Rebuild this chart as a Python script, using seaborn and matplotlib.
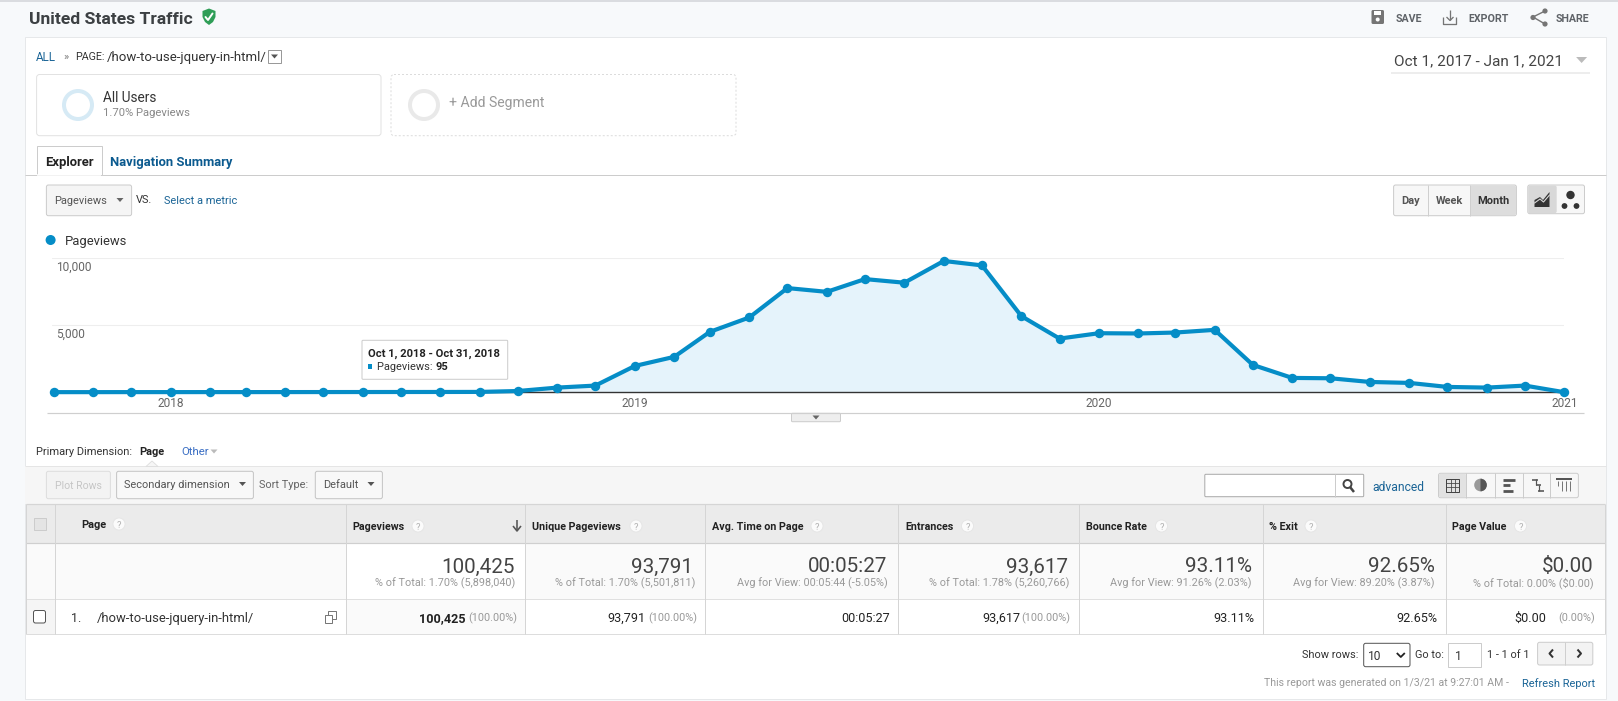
import matplotlib
matplotlib.use("Agg")
import matplotlib.pyplot as plt
import matplotlib.dates as mdates
from matplotlib.patches import Rectangle, FancyBboxPatch, Circle, Polygon, Wedge
from matplotlib.transforms import ScaledTranslation
import pandas as pd
import seaborn as sns

# ---------- data ----------
months = pd.date_range("2017-10-01", "2021-01-01", freq="MS")
pageviews = [12, 12, 14, 14, 15, 15, 16, 18, 20, 22, 24, 28, 95, 350, 500, 1960, 2640,
             4500, 5570, 7760, 7480, 8430, 8160, 9780, 9450, 5670, 4000, 4400, 4380,
             4450, 4650, 2040, 1070, 1045, 770, 700, 400, 350, 500, 5]
y_ticks = [5000, 10000]

col_names = ["Pageviews", "Unique Pageviews", "Avg. Time on Page", "Entrances",
             "Bounce Rate", "% Exit", "Page Value"]
col_big = ["100,425", "93,791", "00:05:27", "93,617", "93.11%", "92.65%", "$0.00"]
col_sub = ["% of Total: 1.70% (5,898,040)", "% of Total: 1.70% (5,501,811)",
           "Avg for View: 00:05:44 (-5.05%)", "% of Total: 1.78% (5,260,766)",
           "Avg for View: 91.26% (2.03%)", "Avg for View: 89.20% (3.87%)",
           "% of Total: 0.00% ($0.00)"]
row_val = ["100,425", "93,791", "00:05:27", "93,617", "93.11%", "92.65%", "$0.00"]
row_pct = ["(100.00%)", "(100.00%)", "", "(100.00%)", "", "", "(0.00%)"]

# ---------- layout in pixels ----------
W, H = 1618, 701
col_edges = [345.7, 525.3, 705.4, 898.3, 1079.4, 1262.6, 1445.7, 1604.7]
hdr_x = [352, 532, 712, 905, 1086, 1269.5, 1452]
hdr_q = [418, 636, 817, 967.5, 1161.5, 1311, 1520.5]
big_r = [515, 693.5, 887.4, 1068.5, 1251.7, 1435, 1593.8]
sub_r = [515, 695, 888, 1069, 1252, 1435, 1594]
val_r = [466, 646, 890, 1021, 1254, 1437, 1546]
pct_r = [517, 697, 0, 1070.6, 0, 0, 1595]

BLUE = "#058dc7"
LINK = "#1a6496"
TXT = "#333333"
GREY = "#999999"
EDGE = "#cfcfcf"

sns.set_theme(style="white")
plt.rcParams["font.family"] = ["Roboto", "DejaVu Sans"]

fig = plt.figure(figsize=(W / 100, H / 100), dpi=100, facecolor="#f7f9fb")
bg = fig.add_axes([0, 0, 1, 1], zorder=0)
bg.set_xlim(0, W)
bg.set_ylim(H, 0)
bg.axis("off")


def T(x, y, s, px=12, color=TXT, weight="normal", ha="left", z=6):
    bg.text(x, y, s, fontsize=px * 0.72, color=color, fontweight=weight,
            ha=ha, va="center_baseline", zorder=z)


def R(x0, y0, x1, y1, fc="white", ec="none", lw=1, z=2, ls="-", round_=0):
    if round_:
        p = FancyBboxPatch((x0, y0), x1 - x0, y1 - y0,
                           boxstyle=f"round,pad=0,rounding_size={round_}",
                           fc=fc, ec=ec, lw=lw * 0.72, ls=ls, zorder=z)
    else:
        p = Rectangle((x0, y0), x1 - x0, y1 - y0, fc=fc, ec=ec, lw=lw * 0.72, ls=ls, zorder=z)
    bg.add_patch(p)


def L(xs, ys, c=EDGE, lw=1, z=3):
    bg.plot(xs, ys, color=c, lw=lw * 0.72, zorder=z, solid_capstyle="butt")


def TRI(cx, cy, w=9, h=5, c="#666666", up=False, z=6):
    d = -1 if up else 1
    bg.add_patch(Polygon([(cx - w / 2, cy - d * h / 2), (cx + w / 2, cy - d * h / 2),
                          (cx, cy + d * h / 2)], fc=c, ec="none", zorder=z))


def RING(cx, cy, r, c, lw=5):
    bg.add_patch(Circle((cx, cy), r, fc="none", ec=c, lw=lw * 0.72, zorder=4))


def Q(cx, cy):
    bg.add_patch(Circle((cx, cy), 6, fc="#fbfbfb", ec="#e4e4e4", lw=0.6, zorder=5))
    T(cx, cy, "?", 9.5, "#b0b0b0", ha="center")


# ---------- page frame ----------
R(0, 0, W, 1.5, fc="#dadce0", z=1)
R(25.5, 37, 1606, 699, fc="white", ec="#e6e8ea", z=1)

# header
T(29, 17.5, "United States Traffic", 17.5, "#3c4043", "bold")
bg.add_patch(Polygon([(202.5, 11), (209, 8.5), (215.5, 11), (215.5, 17), (213, 22),
                      (209, 25), (205, 22), (202.5, 17)], fc="#2f9e57", ec="none", zorder=5))
bg.plot([205.5, 208, 212.5], [17, 20, 13.5], color="white", lw=1.4, zorder=6)

G = "#757575"
R(1371.5, 10, 1384, 24, fc=G, z=5, round_=1.5)
R(1374, 11, 1381, 15, fc="white", z=6)
bg.add_patch(Circle((1377.7, 19.5), 2, fc="white", ec="none", zorder=6))
T(1395.7, 17.5, "SAVE", 10.6, "#5f6368", "bold")
L([1450, 1450], [10, 20], G, 1.3, 5)
L([1446.5, 1450, 1453.5], [17, 20.5, 17], G, 1.3, 5)
L([1443.5, 1443.5, 1456.5, 1456.5], [17, 24, 24, 17], G, 1.3, 5)
T(1468.5, 17.5, "EXPORT", 10.6, "#5f6368", "bold")
L([1545, 1533, 1545], [11, 17, 24], G, 1.4, 5)
for cx, cy in [(1545, 11), (1533, 17.5), (1545, 24)]:
    bg.add_patch(Circle((cx, cy), 2.6, fc=G, ec="none", zorder=5))
T(1556, 17.5, "SHARE", 10.6, "#5f6368", "bold")

# breadcrumb and date
T(36, 56, "ALL", 11.6, LINK)
T(63, 56, "»", 11, "#777777")
T(75, 56, "PAGE:", 10.8, TXT)
T(107, 56, "/how-to-use-jquery-in-html/", 13.2, TXT)
R(268, 50, 281, 63, fc="white", ec="#999999")
TRI(274.5, 56.5, 7, 4, "#555555")
T(1393.6, 60, "Oct 1, 2017 - Jan 1, 2021", 15.4, "#444444")
TRI(1581.6, 60, 11, 6, "#bbbbbb")
L([1390.6, 1590], [72.7, 72.7], "#e8e8e8", 1.5)

# segments
R(36.6, 74.5, 381, 135.7, ec="#e2e2e2", round_=3)
RING(78, 105, 14, "#d6eaf5", 4)
T(103.5, 97, "All Users", 13.6, TXT)
T(103.5, 112, "1.70% Pageviews", 11.3, "#888888")
R(391, 74.5, 736, 135.7, ec="#dcdcdc", ls=(0, (2, 2)), round_=3)
RING(424, 105, 14, "#e9e9e9", 4)
T(449, 102, "+ Add Segment", 14, "#999999")

# tabs
L([25.5, 1606], [174.5, 174.5], "#cccccc", 1)
R(36.6, 146, 101.7, 175, ec="#cccccc", z=4)
L([37.2, 101.2], [174.5, 174.5], "white", 1.5, 5)
T(69, 161, "Explorer", 13, "#222222", "bold", ha="center")
T(110.5, 161, "Navigation Summary", 13, "#0b5a8f", "bold")

# metric and period controls
R(46.4, 185, 131.6, 215.7, fc="#f5f5f5", ec="#cccccc", round_=2)
T(54, 200, "Pageviews", 11, "#555555")
TRI(120, 200, 7, 4, "#666666")
T(136, 199, "VS.", 11, TXT)
T(164, 200, "Select a metric", 11, LINK)

R(1393.6, 185, 1516.4, 215.7, fc="#f7f7f7", ec="#cccccc", round_=2)
R(1470, 185.5, 1516, 215.2, fc="#dddddd", z=3, round_=2)
L([1427.7, 1427.7], [185, 215.7])
L([1470, 1470], [185, 215.7])
T(1410.6, 200, "Day", 11, "#555555", "bold", ha="center")
T(1449, 200, "Week", 11, "#555555", "bold", ha="center")
T(1493, 200, "Month", 11, "#333333", "bold", ha="center")
R(1527.8, 185, 1584.5, 213.7, fc="#f7f7f7", ec="#cccccc", round_=2)
R(1528.2, 185.5, 1556.7, 213.2, fc="#d8d8d8", z=3, round_=2)
bg.add_patch(Polygon([(1534.5, 207), (1534.5, 200), (1540, 197), (1543, 200), (1549.5, 192), (1549.5, 207)],
                     fc="#333333", ec="none", zorder=5))
bg.plot([1534.5, 1540, 1543.5, 1549.5], [203, 199, 202, 195], color="#d8d8d8", lw=0.8, zorder=6)
for cx, cy, r in [(1570.5, 195, 4.2), (1564.5, 206, 2.9), (1576.5, 206, 2.9)]:
    bg.add_patch(Circle((cx, cy), r, fc="#333333", ec="none", zorder=5))

# chart legend
bg.add_patch(Circle((50.6, 240), 5, fc=BLUE, ec="none", zorder=5))
T(64.5, 240.5, "Pageviews", 13, TXT)

# chart footer
L([47.5, 1584], [413.3, 413.3], "#cfcfcf", 1.2)
R(791.5, 413.3, 840.5, 421.7, fc="#eeeeee", ec="#cccccc", round_=1)
TRI(816, 417.5, 7, 4, "#666666")

# ---------- chart ----------
plot_left, plot_right, plot_top, plot_bottom = 51.6, 1564.4, 258.0, 392.3
ax = fig.add_axes([plot_left / W, 1 - plot_bottom / H, (plot_right - plot_left) / W,
                   (plot_bottom - plot_top) / H], zorder=1)
ax.patch.set_alpha(0)
df = pd.DataFrame({"Month": months, "Pageviews": pageviews})
ax.fill_between(df["Month"], df["Pageviews"], 0, color="#e5f3fb", lw=0, zorder=1)
sns.lineplot(data=df, x="Month", y="Pageviews", ax=ax, color=BLUE, lw=3, marker="o", ms=6.8,
             mec=BLUE, mew=0, legend=False, zorder=4, clip_on=False, errorbar=None)
ax.set_xlim(months[0] - pd.Timedelta(days=1.6), months[-1])
ax.set_ylim(0, 10000)
ax.set_xlabel("")
ax.set_ylabel("")
for s in ["top", "left", "right"]:
    ax.spines[s].set_visible(False)
ax.spines["bottom"].set_color("#333333")
ax.spines["bottom"].set_linewidth(1.0)
ax.xaxis.set_major_locator(mdates.YearLocator())
ax.xaxis.set_major_formatter(mdates.DateFormatter("%Y"))
ax.tick_params(axis="x", length=0, pad=3.6, labelsize=8.6, labelcolor="#666666")
ax.set_yticks(y_ticks)
ax.set_yticklabels([f"{v:,}" for v in y_ticks])
ax.tick_params(axis="y", length=0, pad=0, labelsize=8.6, labelcolor="#666666", left=False)
offset = ScaledTranslation(4.4 / 100, -8.0 / 100, fig.dpi_scale_trans)
for lab in ax.get_yticklabels():
    lab.set_ha("left")
    lab.set_transform(lab.get_transform() + offset)
ax.grid(axis="y", color="#eeeeee", lw=0.8)
ax.grid(axis="x", visible=False)
ax.set_axisbelow(True)

# tooltip
R(362, 340.3, 507.7, 379.3, ec="#cccccc", z=5, round_=1)
T(368, 352.3, "Oct 1, 2018 - Oct 31, 2018", 11.3, "#222222", "bold", z=7)
R(368.3, 364, 372.5, 368.5, fc=BLUE, z=7)
T(377.5, 366.5, "Pageviews: ", 11, TXT, z=7)
T(436, 366.5, "95", 11, "#222222", "bold", z=7)

# ---------- table controls ----------
T(36, 451.3, "Primary Dimension:", 11, TXT)
T(139.5, 451.3, "Page", 11, "#222222", "bold")
T(181, 451.3, "Other", 11.4, "#3b6fc4")
TRI(214, 451.5, 7, 4, "#bbbbbb")
R(25.5, 466, 1606, 504, fc="#f6f6f6", z=1.5)
L([25.5, 1606], [466, 466], "#e5e5e5")
bg.add_patch(Polygon([(146, 466.5), (152, 461), (158, 466.5)], fc="#f6f6f6", ec="#dddddd", lw=0.6, zorder=4))
R(46.4, 471.3, 110.4, 498.7, fc="#f3f3f3", ec="#dddddd", round_=2)
T(78.5, 485, "Plot Rows", 10.5, "#c6c6c6", ha="center")
R(116.6, 471.3, 253.4, 498.7, fc="#f8f8f8", ec="#c4c4c4", round_=2)
T(124, 484.5, "Secondary dimension", 11, "#555555")
TRI(242.5, 484, 7, 4, "#555555")
T(259.5, 484.5, "Sort Type:", 11, "#666666")
R(315.3, 471.3, 382.4, 498.7, fc="#f8f8f8", ec="#c4c4c4", round_=2)
T(323, 484.5, "Default", 11, "#555555")
TRI(371, 484, 7, 4, "#555555")

R(1204.8, 474.3, 1363.7, 496.7, ec="#aaaaaa", round_=1)
L([1335.3, 1335.3], [474.3, 496.7], "#cccccc")
bg.add_patch(Circle((1347.5, 484), 4, fc="none", ec="#444444", lw=1.4, zorder=5))
L([1350, 1354], [487, 492], "#444444", 2.5, 5)
T(1372.5, 485.7, "advanced", 12.1, LINK)

R(1438.5, 473.3, 1578.4, 497.7, fc="#f7f7f7", ec="#cccccc", round_=2)
R(1439, 473.8, 1466.4, 497.2, fc="#e2e2e2", z=3, round_=2)
for xs in [1466.4, 1494.8, 1522.6, 1550.5]:
    L([xs, xs], [473.3, 497.7], "#cccccc")
R(1446.5, 479, 1459, 491.5, fc="none", ec="#444444", z=5)
for k in (1, 2):
    L([1446.5 + k * 4.17] * 2, [479, 491.5], "#444444", 0.8, 5)
    L([1446.5, 1459], [479 + k * 4.17] * 2, "#444444", 0.8, 5)
bg.add_patch(Circle((1480.5, 485), 6.3, fc="#999999", ec="none", zorder=5))
bg.add_patch(Wedge((1480.5, 485), 6.3, -90, 90, fc="#555555", ec="none", zorder=6))
for yy, xe in [(479.5, 1515), (485, 1510), (490.5, 1513)]:
    L([1503, xe], [yy, yy], "#555555", 2.8, 5)
L([1532, 1538], [479.5, 479.5], "#555555", 1.6, 5)
L([1536, 1541], [485, 485], "#555555", 1.6, 5)
L([1538, 1544], [490.5, 490.5], "#555555", 1.6, 5)
L([1536, 1536], [479, 485], "#555555", 1.2, 5)
L([1539, 1539], [485, 490.5], "#555555", 1.2, 5)
L([1556, 1572], [478.5, 478.5], "#555555", 2, 5)
for xs, ye in [(1558, 486), (1562, 491), (1566, 491), (1570, 491)]:
    L([xs, xs], [481, ye], "#777777", 1, 5)

# ---------- table ----------
hy0, hy1, sy1, ry1 = 504.3, 543.3, 599.3, 634.3
x0, x1 = 25.8, 1604.7
R(x0, hy0, x1, hy1, fc="#ebebeb", z=1.6)
R(x0, hy1, x1, sy1, fc="#fafafa", z=1.6)
R(col_edges[0], hy1, col_edges[1], sy1, fc="white", z=1.7)
R(col_edges[0], sy1, col_edges[1], ry1, fc="#fafafa", z=1.7)
R(x0, sy1, 54.7, ry1, fc="#f5f5f5", z=1.7)
for yy, c, lw in [(hy0, "#d5d5d5", 1.2), (hy1, "#cfcfcf", 1.2), (sy1, "#e0e0e0", 1), (ry1, "#dddddd", 1)]:
    L([x0, x1], [yy, yy], c, lw)
for xe in [x0, 54.7] + col_edges:
    L([xe, xe], [hy0, ry1], "#d5d5d5", 1)

R(34, 517.5, 46.5, 530, fc="#e4e4e4", ec="#cccccc", z=4)
R(33.5, 610.5, 45.5, 623, fc="white", ec="#555555", z=4, round_=2)
T(81, 524.3, "Page", 11, "#222222", "bold")
Q(119, 524)
for i, name in enumerate(col_names):
    T(hdr_x[i], 526.3, name, 10.8, "#222222", "bold")
    Q(hdr_q[i], 526)
    T(big_r[i], 565, col_big[i], 20.7, "#444444", ha="right")
    T(sub_r[i], 582.3, col_sub[i], 10.9, GREY, ha="right")
    T(val_r[i], 616.7, row_val[i], 12.6, "#222222", "bold" if i == 0 else "normal", ha="right")
    if row_pct[i]:
        T(pct_r[i], 617, row_pct[i], 10.9, GREY, ha="right")
L([517, 517], [520, 530], "#555555", 1.6, 5)
L([513, 517, 521], [526, 531, 526], "#555555", 1.6, 5)
T(71.5, 616.7, "1.", 12.5, TXT)
T(97, 616.7, "/how-to-use-jquery-in-html/", 13, TXT)
R(328.5, 611, 336.5, 619, fc="white", ec="#777777", z=5)
R(325.5, 615, 332, 622.5, fc="white", ec="#777777", z=5)

# pager and footer
T(1301.8, 654.3, "Show rows:", 11, TXT)
R(1363.7, 643.3, 1410, 666.7, ec="#555555", round_=2)
T(1367.5, 655, "10", 12, TXT)
L([1396.8, 1400.8, 1404.8], [653, 657, 653], "#222222", 1.8, 5)
T(1414.8, 654.3, "Go to:", 11, TXT)
R(1448.3, 643.3, 1481.4, 666.7, ec="#cccccc")
T(1455, 655, "1", 12, TXT)
T(1487.5, 654.3, "1 - 1 of 1", 11, TXT)
R(1537.6, 642.3, 1592.8, 665, fc="#f3f3f3", ec="#cccccc", round_=2)
L([1565, 1565], [642.3, 665])
L([1553, 1549.5, 1553], [649.5, 653.5, 657.5], "#333333", 2, 5)
L([1577.5, 1581, 1577.5], [649.5, 653.5, 657.5], "#333333", 2, 5)
T(1264, 682.3, "This report was generated on 1/3/21 at 9:27:01 AM - ", 10.5, GREY)
T(1595, 682.3, "Refresh Report", 11, LINK, ha="right")

fig.savefig("out.png", dpi=100, facecolor=fig.get_facecolor())
